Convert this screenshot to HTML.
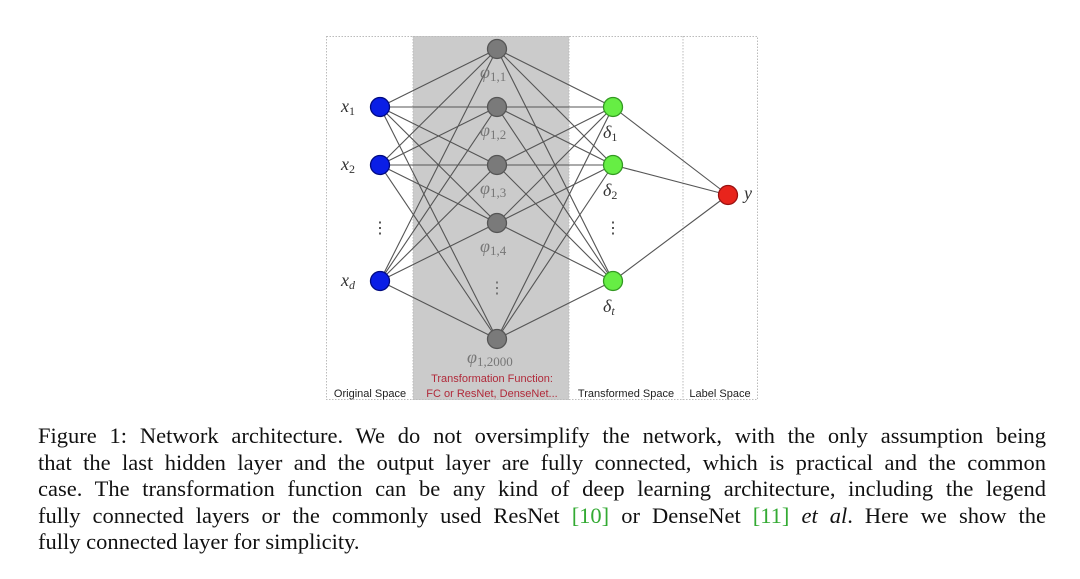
<!DOCTYPE html>
<html><head><meta charset="utf-8"><style>
body{margin:0;width:1080px;height:579px;background:#fff;overflow:hidden;position:relative}
svg{position:absolute;left:0;top:0}
.cap{position:absolute;left:38px;width:1008px;font-family:"Liberation Serif",serif;font-size:22.5px;color:#111;line-height:26.5px;top:423px}
.cap div{text-align:justify;text-align-last:justify;white-space:nowrap}
.cap div.l{text-align-last:left}
.g{color:#3a3}
</style></head><body>
<svg width="1080" height="579" font-family="Liberation Serif, serif">
<rect x="413" y="36" width="156" height="364" fill="#cbcbcb"/>
<rect x="326.5" y="36.5" width="431" height="363" fill="none" stroke="#bbb" stroke-dasharray="1.5,1.5"/>
<line x1="413" y1="36" x2="413" y2="400" stroke="#bbb" stroke-dasharray="1.5,1.5"/>
<line x1="569" y1="36" x2="569" y2="400" stroke="#bbb" stroke-dasharray="1.5,1.5"/>
<line x1="683" y1="36" x2="683" y2="400" stroke="#bbb" stroke-dasharray="1.5,1.5"/>
<g stroke="#555" stroke-width="1.1">
<line x1="380" y1="107" x2="497" y2="49"/><line x1="380" y1="107" x2="497" y2="107"/><line x1="380" y1="107" x2="497" y2="165"/><line x1="380" y1="107" x2="497" y2="223"/><line x1="380" y1="107" x2="497" y2="339"/>
<line x1="380" y1="165" x2="497" y2="49"/><line x1="380" y1="165" x2="497" y2="107"/><line x1="380" y1="165" x2="497" y2="165"/><line x1="380" y1="165" x2="497" y2="223"/><line x1="380" y1="165" x2="497" y2="339"/>
<line x1="380" y1="281" x2="497" y2="49"/><line x1="380" y1="281" x2="497" y2="107"/><line x1="380" y1="281" x2="497" y2="165"/><line x1="380" y1="281" x2="497" y2="223"/><line x1="380" y1="281" x2="497" y2="339"/>
<line x1="497" y1="49" x2="613" y2="107"/><line x1="497" y1="49" x2="613" y2="165"/><line x1="497" y1="49" x2="613" y2="281"/>
<line x1="497" y1="107" x2="613" y2="107"/><line x1="497" y1="107" x2="613" y2="165"/><line x1="497" y1="107" x2="613" y2="281"/>
<line x1="497" y1="165" x2="613" y2="107"/><line x1="497" y1="165" x2="613" y2="165"/><line x1="497" y1="165" x2="613" y2="281"/>
<line x1="497" y1="223" x2="613" y2="107"/><line x1="497" y1="223" x2="613" y2="165"/><line x1="497" y1="223" x2="613" y2="281"/>
<line x1="497" y1="339" x2="613" y2="107"/><line x1="497" y1="339" x2="613" y2="165"/><line x1="497" y1="339" x2="613" y2="281"/>
<line x1="613" y1="107" x2="728" y2="195"/><line x1="613" y1="165" x2="728" y2="195"/><line x1="613" y1="281" x2="728" y2="195"/>
</g>
<g stroke-width="1.3">
<circle cx="380" cy="107" r="9.5" fill="#0a1ee6" stroke="#000a80"/>
<circle cx="380" cy="165" r="9.5" fill="#0a1ee6" stroke="#000a80"/>
<circle cx="380" cy="281" r="9.5" fill="#0a1ee6" stroke="#000a80"/>
<g fill="#7a7a7a" stroke="#555">
<circle cx="497" cy="49" r="9.5"/><circle cx="497" cy="107" r="9.5"/><circle cx="497" cy="165" r="9.5"/><circle cx="497" cy="223" r="9.5"/><circle cx="497" cy="339" r="9.5"/>
</g>
<g fill="#66ee44" stroke="#339922">
<circle cx="613" cy="107" r="9.5"/><circle cx="613" cy="165" r="9.5"/><circle cx="613" cy="281" r="9.5"/>
</g>
<circle cx="728" cy="195" r="9.5" fill="#e8241c" stroke="#991111"/>
</g>
<g font-size="18" font-style="italic" fill="#333">
<text x="341" y="112">x<tspan font-size="12" font-style="normal" dy="3">1</tspan></text>
<text x="341" y="170">x<tspan font-size="12" font-style="normal" dy="3">2</tspan></text>
<text x="341" y="286">x<tspan font-size="12" dy="3">d</tspan></text>
<text x="744" y="199">y</text>
<text x="603" y="138">δ<tspan font-size="12" font-style="normal" dy="3">1</tspan></text>
<text x="603" y="196">δ<tspan font-size="12" font-style="normal" dy="3">2</tspan></text>
<text x="603" y="312">δ<tspan font-size="12" dy="3">t</tspan></text>
<g fill="#777">
<text x="480" y="78">φ<tspan font-size="13" font-style="normal" dy="3">1,1</tspan></text>
<text x="480" y="136">φ<tspan font-size="13" font-style="normal" dy="3">1,2</tspan></text>
<text x="480" y="194">φ<tspan font-size="13" font-style="normal" dy="3">1,3</tspan></text>
<text x="480" y="252">φ<tspan font-size="13" font-style="normal" dy="3">1,4</tspan></text>
<text x="467" y="363">φ<tspan font-size="13" font-style="normal" dy="3">1,2000</tspan></text>
</g>
</g>
<g font-size="16" fill="#333" text-anchor="middle">
<text x="380" y="233">⋮</text><text x="613" y="233">⋮</text><text x="497" y="293" fill="#666">⋮</text>
</g>
<g font-family="Liberation Sans, sans-serif" font-size="11" fill="#222" text-anchor="middle">
<text x="370" y="397">Original Space</text>
<text x="626" y="397">Transformed Space</text>
<text x="720" y="397">Label Space</text>
<text x="492" y="382" fill="#b02a3a">Transformation Function:</text>
<text x="492" y="397" fill="#b02a3a">FC or ResNet, DenseNet...</text>
</g>
</svg>
<div class="cap">
<div>Figure 1: Network architecture. We do not oversimplify the network, with the only assumption being</div>
<div>that the last hidden layer and the output layer are fully connected, which is practical and the common</div>
<div>case. The transformation function can be any kind of deep learning architecture, including the legend</div>
<div>fully connected layers or the commonly used ResNet <span class="g">[10]</span> or DenseNet <span class="g">[11]</span> <i>et al</i>. Here we show the</div>
<div class="l">fully connected layer for simplicity.</div>
</div>
</body></html>
